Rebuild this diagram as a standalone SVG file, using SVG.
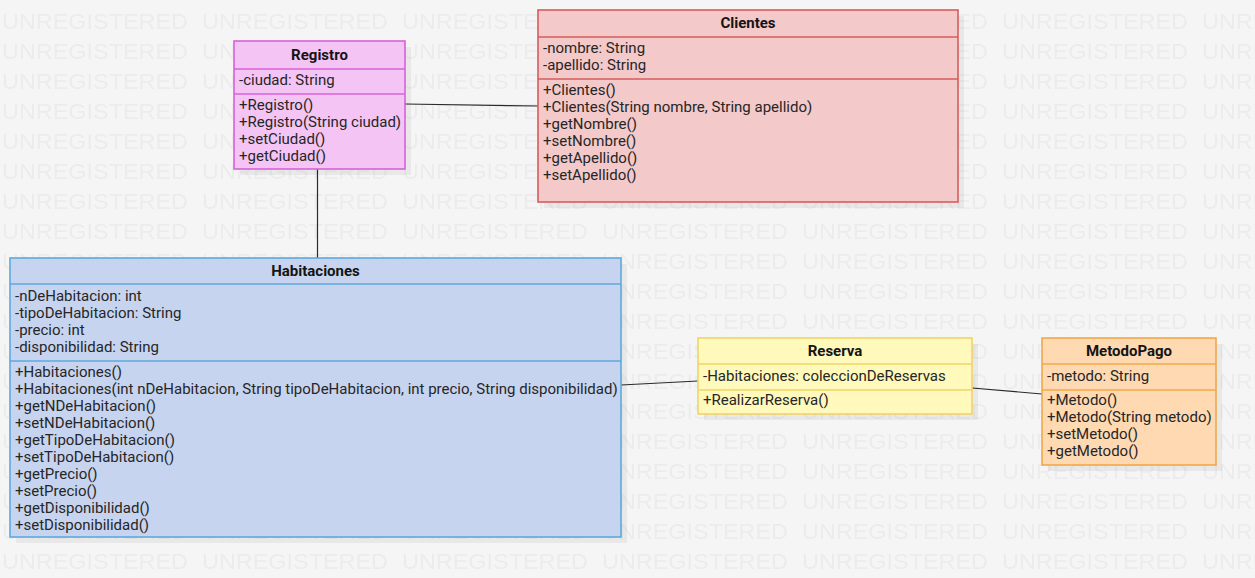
<svg xmlns="http://www.w3.org/2000/svg" width="1255" height="578" viewBox="0 0 1255 578">
  <defs>
    <pattern id="wm" x="0" y="0" width="200" height="30" patternUnits="userSpaceOnUse">
      <text x="2" y="29" font-family="'Liberation Sans', Arial, sans-serif" font-size="22" fill="#ececec" textLength="186" lengthAdjust="spacingAndGlyphs">UNREGISTERED</text>
    </pattern>
    <style>
      .t { font-family: Roboto, 'Liberation Sans', sans-serif; font-size: 15px; fill: #262626; }
      .h { font-family: Roboto, 'Liberation Sans', sans-serif; font-size: 15px; font-weight: bold; fill: #141414; text-anchor: middle; }
      .sh { fill: #000; fill-opacity: 0.05; }
      .edge { stroke: #2a2a2a; stroke-width: 1.2; fill: none; }
    </style>
  </defs>
  <rect x="0" y="0" width="1255" height="578" fill="#f5f5f5"/>
  <rect x="0" y="0" width="1255" height="578" fill="url(#wm)"/>

  <g id="connectors">
    <line class="edge" x1="405" y1="104" x2="538" y2="106"/>
    <line class="edge" x1="317.5" y1="169" x2="317.5" y2="258"/>
    <line class="edge" x1="621" y1="385" x2="698" y2="381"/>
    <line class="edge" x1="972" y1="388" x2="1042" y2="394"/>
  </g>

  <g id="Registro">
    <rect class="sh" x="240" y="47" width="171" height="128"/>
    <rect x="234" y="41" width="171" height="128" fill="#f4c4f4" stroke="#d862d8" stroke-width="1.6"/>
    <line x1="234" y1="69" x2="405" y2="69" stroke="#d862d8" stroke-width="1.6"/>
    <line x1="234" y1="94" x2="405" y2="94" stroke="#d862d8" stroke-width="1.6"/>
    <text class="h" x="319.5" y="60">Registro</text>
    <text class="t" x="239" y="85">-ciudad: String</text>
    <text class="t" x="239" y="110">+Registro()</text>
    <text class="t" x="239" y="127">+Registro(String ciudad)</text>
    <text class="t" x="239" y="144">+setCiudad()</text>
    <text class="t" x="239" y="161">+getCiudad()</text>
  </g>

  <g id="Clientes">
    <rect class="sh" x="544" y="16" width="420" height="192"/>
    <rect x="538" y="10" width="420" height="192" fill="#f4c9c9" stroke="#d65d5d" stroke-width="1.6"/>
    <line x1="538" y1="37" x2="958" y2="37" stroke="#d65d5d" stroke-width="1.6"/>
    <line x1="538" y1="79" x2="958" y2="79" stroke="#d65d5d" stroke-width="1.6"/>
    <text class="h" x="748" y="28">Clientes</text>
    <text class="t" x="543" y="53">-nombre: String</text>
    <text class="t" x="543" y="70">-apellido: String</text>
    <text class="t" x="543" y="95">+Clientes()</text>
    <text class="t" x="543" y="112">+Clientes(String nombre, String apellido)</text>
    <text class="t" x="543" y="129">+getNombre()</text>
    <text class="t" x="543" y="146">+setNombre()</text>
    <text class="t" x="543" y="163">+getApellido()</text>
    <text class="t" x="543" y="180">+setApellido()</text>
  </g>

  <g id="Habitaciones">
    <rect class="sh" x="16" y="264" width="611" height="279"/>
    <rect x="10" y="258" width="611" height="279" fill="#c6d4ef" stroke="#5ea9dc" stroke-width="1.6"/>
    <line x1="10" y1="284" x2="621" y2="284" stroke="#5ea9dc" stroke-width="1.6"/>
    <line x1="10" y1="361" x2="621" y2="361" stroke="#5ea9dc" stroke-width="1.6"/>
    <text class="h" x="315.5" y="276">Habitaciones</text>
    <text class="t" x="15" y="301">-nDeHabitacion: int</text>
    <text class="t" x="15" y="318">-tipoDeHabitacion: String</text>
    <text class="t" x="15" y="335">-precio: int</text>
    <text class="t" x="15" y="352">-disponibilidad: String</text>
    <text class="t" x="15" y="377">+Habitaciones()</text>
    <text class="t" x="15" y="394">+Habitaciones(int nDeHabitacion, String tipoDeHabitacion, int precio, String disponibilidad)</text>
    <text class="t" x="15" y="411">+getNDeHabitacion()</text>
    <text class="t" x="15" y="428">+setNDeHabitacion()</text>
    <text class="t" x="15" y="445">+getTipoDeHabitacion()</text>
    <text class="t" x="15" y="462">+setTipoDeHabitacion()</text>
    <text class="t" x="15" y="479">+getPrecio()</text>
    <text class="t" x="15" y="496">+setPrecio()</text>
    <text class="t" x="15" y="513">+getDisponibilidad()</text>
    <text class="t" x="15" y="530">+setDisponibilidad()</text>
  </g>

  <g id="Reserva">
    <rect class="sh" x="704" y="344" width="274" height="76"/>
    <rect x="698" y="338" width="274" height="76" fill="#fff9bb" stroke="#f1d467" stroke-width="1.6"/>
    <line x1="698" y1="364" x2="972" y2="364" stroke="#f1d467" stroke-width="1.6"/>
    <line x1="698" y1="390" x2="972" y2="390" stroke="#f1d467" stroke-width="1.6"/>
    <text class="h" x="835" y="356">Reserva</text>
    <text class="t" x="703" y="381">-Habitaciones: coleccionDeReservas</text>
    <text class="t" x="703" y="405">+RealizarReserva()</text>
  </g>

  <g id="MetodoPago">
    <rect class="sh" x="1048" y="344" width="174" height="127"/>
    <rect x="1042" y="338" width="174" height="127" fill="#fed9b2" stroke="#f2a848" stroke-width="1.6"/>
    <line x1="1042" y1="364" x2="1216" y2="364" stroke="#f2a848" stroke-width="1.6"/>
    <line x1="1042" y1="390" x2="1216" y2="390" stroke="#f2a848" stroke-width="1.6"/>
    <text class="h" x="1129" y="356">MetodoPago</text>
    <text class="t" x="1047" y="381">-metodo: String</text>
    <text class="t" x="1047" y="405">+Metodo()</text>
    <text class="t" x="1047" y="422">+Metodo(String metodo)</text>
    <text class="t" x="1047" y="439">+setMetodo()</text>
    <text class="t" x="1047" y="456">+getMetodo()</text>
  </g>
</svg>
